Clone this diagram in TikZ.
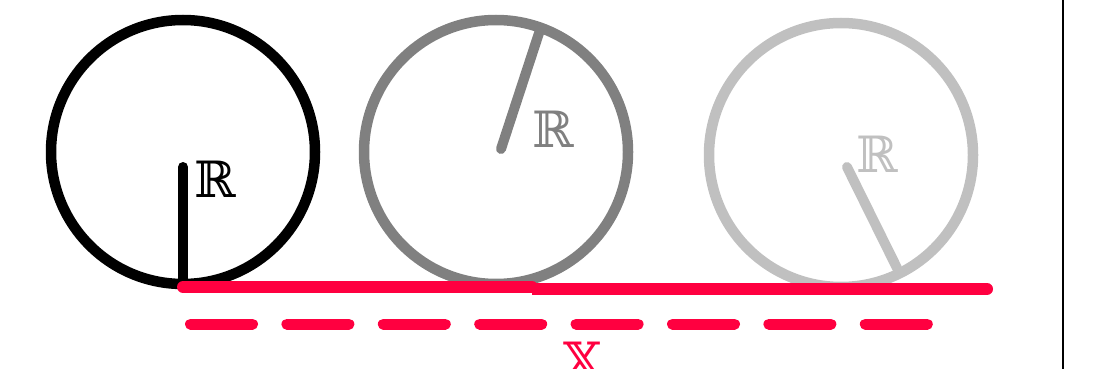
\documentclass[tikz,border=0pt]{standalone}
\usepackage{fontspec}
\newfontfamily\dsfont{DejaVu Serif}
\definecolor{rollred}{RGB}{255,0,64}
\definecolor{midgray}{RGB}{128,128,128}
\definecolor{lightgray2}{RGB}{192,192,192}
\begin{document}
\begin{tikzpicture}[x=1pt,y=-1pt,
  wheel/.style={line width=10.5pt},
  spoke/.style={line width=10pt,line cap=round},
  ground/.style={rollred,line width=12pt,line cap=round},
  trace/.style={rollred,line width=11pt,line cap=round,dash pattern=on 62pt off 34.4pt},
  lbl/.style={inner sep=0pt,anchor=base,font=\dsfont\fontsize{50}{50}\selectfont}]
\useasboundingbox (0,0) rectangle (1101,369);
\clip (0,0) rectangle (1101,369);
% wheels
\coordinate (c1) at (183,152);
\coordinate (c2) at (496,152);
\coordinate (c3) at (841,155);
\draw[wheel,black] (c1) circle[radius=132];
\draw[wheel,midgray] (c2) circle[radius=132];
\draw[wheel,lightgray2] (c3) circle[radius=132];
% spokes
\coordinate (s1a) at (183,167);
\coordinate (s1b) at (183,287);
\coordinate (s2a) at (501,149);
\coordinate (s2b) at (540,30);
\coordinate (s3a) at (847,167);
\coordinate (s3b) at (897,268);
\draw[spoke,black] (s1a) -- (s1b);
\draw[spoke,midgray] (s2a) -- (s2b);
\draw[spoke,lightgray2] (s3a) -- (s3b);
% labels
\node[lbl,text=black] (r1) at (215,197) {ℝ};
\node[lbl,text=midgray] (r2) at (553,147) {ℝ};
\node[lbl,text=lightgray2] (r3) at (877,172) {ℝ};
% ground line
\coordinate (g1) at (183,287);
\coordinate (g2) at (532,287);
\coordinate (g3) at (532,289);
\coordinate (g4) at (987,289);
\draw[ground] (g1) -- (g2);
\draw[ground,line cap=butt] (g3) -- (g4);
\draw[ground] (g4) -- ++(-1,0);
% dashed trace
\coordinate (d1) at (190.5,324);
\coordinate (d2) at (928,324);
\draw[trace] (d1) -- (d2);
\node[lbl,text=rollred] (x) at (583,378) {𝕏};
% right border
\coordinate (v1) at (1063,0);
\coordinate (v2) at (1063,369);
\draw[line width=2pt,black] (v1) -- (v2);
\end{tikzpicture}
\end{document}
